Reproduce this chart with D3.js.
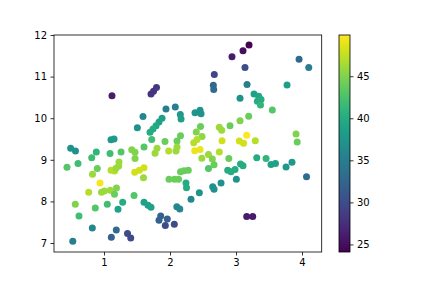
<!DOCTYPE html>
<html><head><meta charset="utf-8">
<script src="https://cdn.jsdelivr.net/npm/d3@7"></script>
<style>html,body{margin:0;padding:0;background:#fff}svg{display:block}</style>
</head><body>
<script>
const xs=[1.121,1.712,1.750,1.795,1.939,2.080,1.591,1.879,1.833,1.788,1.742,1.697,1.505,2.156,2.167,2.379,2.455,2.470,3.197,3.106,2.939,3.955,4.102,2.671,3.136,2.656,2.662,3.167,3.773,3.061,3.273,3.344,3.379,3.323,3.371,3.550,3.192,3.061,2.909,2.747,2.783,2.462,2.398,2.485,2.409,2.359,2.159,2.788,3.050,3.114,3.162,3.292,3.909,3.927,1.106,1.152,1.723,1.924,2.106,0.495,0.568,0.439,0.606,0.814,0.883,1.091,1.258,1.420,1.470,1.606,1.803,1.773,1.980,2.091,2.106,1.470,0.826,0.898,1.106,1.159,1.227,1.223,1.465,1.535,1.606,1.598,0.939,0.768,0.962,1.005,1.095,1.189,1.159,1.455,0.565,0.868,1.050,1.283,1.212,0.621,1.606,1.667,1.712,0.823,0.527,1.111,1.186,1.356,1.405,1.859,1.833,1.959,1.929,2.065,2.103,2.148,2.159,2.212,2.277,1.985,2.068,2.129,2.242,2.250,2.318,2.374,2.455,2.482,2.583,2.641,2.667,2.747,2.891,2.583,2.874,2.924,2.985,3.068,3.106,3.314,3.455,3.530,3.598,3.758,3.848,4.068,3.005,2.773,2.647,2.667,2.444,3.162,3.253,1.182];
const ys=[10.54,10.58,10.65,10.74,10.22,10.27,10.04,10.00,9.91,9.82,9.74,9.66,9.77,10.09,9.98,10.13,10.19,10.11,11.76,11.62,11.48,11.42,11.22,11.05,11.22,10.79,10.69,10.81,10.80,10.48,10.58,10.53,10.45,10.41,10.32,10.20,10.05,9.94,9.82,9.78,9.71,9.80,9.67,9.56,9.49,9.41,9.58,9.46,9.45,9.40,9.59,9.46,9.62,9.43,9.48,9.50,9.49,9.44,9.45,9.28,9.21,8.82,8.91,9.05,9.19,9.15,9.19,9.24,9.18,9.31,9.28,9.16,9.21,9.21,9.31,9.03,8.65,8.79,8.75,8.73,8.95,8.85,8.70,8.75,8.81,8.57,8.44,8.22,8.22,8.25,8.27,8.32,8.17,8.14,7.93,7.84,7.93,7.98,7.81,7.65,7.98,7.91,7.86,7.36,7.04,7.14,7.31,7.23,7.12,7.65,7.55,7.58,7.42,7.45,7.87,7.82,8.71,8.74,8.75,8.53,8.53,8.53,8.44,8.33,8.05,9.22,9.25,9.04,9.13,9.02,8.88,9.19,9.03,8.79,8.75,8.71,8.77,8.90,8.86,9.05,9.03,8.89,8.91,8.83,8.94,8.59,8.53,8.44,8.35,8.29,8.21,7.64,7.64,8.80];
const cs=[26,28,28,28.5,35,35,36,38.5,39,39.5,40,40,37,38,38.5,37.5,37.5,37.5,24.1,25,26,33,35,29.5,30,32.5,33,35,38.5,37,39,39.5,40,40,41,43,44,45,44,46,46,44,45,45.5,47,47,44,48,48,48,49.9,47,45,44,38,38,42,44,44,37,37,43,42,42,41,42,43,45,45,43,46,46,47,46,46,45,46,44,47,47,46,46,48,48,48,46,49.5,47,46,46,46,45,44,43,45,43,42,40,39,42,39,39,39,36,35,32,33,30,30,32,32,32,30,30,36,36,44,44,44,44,44,44,40,40,36,49,49,46,46,45,44,47,44,43,40,40,40,40,40,40,41,39,39,38,38,33,37,37,37,37,37,26,26,46];
const xTicks=[1,2,3,4];
const yTicks=[7,8,9,10,11,12];
const cTicks=[25,30,35,40,45];

const W=432,H=288;
const m={l:54,r:321.7,t:35,b:252};
const svg=d3.select("body").append("svg").attr("width",W).attr("height",H);
const x=d3.scaleLinear().domain([0.2424,4.298]).range([m.l,m.r]);
const y=d3.scaleLinear().domain([6.784,12.0]).range([m.b,m.t]);
const cExt=d3.extent(cs);
const color=d3.scaleSequential(d3.interpolateViridis).domain(cExt);
const font="DejaVu Sans";

const g=svg.append("g");
g.selectAll("circle").data(xs.map((v,i)=>({x:v,y:ys[i],c:cs[i]}))).join("circle")
 .attr("cx",d=>x(d.x)).attr("cy",d=>y(d.y)).attr("r",3.5)
 .attr("fill",d=>color(d.c));

const xa=svg.append("g").attr("transform",`translate(0,${m.b})`)
 .call(d3.axisBottom(x).tickValues(xTicks).tickSize(3.5).tickPadding(3.5).tickFormat(d3.format("d")));
const ya=svg.append("g").attr("transform",`translate(${m.l},0)`)
 .call(d3.axisLeft(y).tickValues(yTicks).tickSize(3.5).tickPadding(3.5).tickFormat(d3.format("d")));
[xa,ya].forEach(a=>{a.select(".domain").remove();a.selectAll("line").attr("stroke","#000").attr("stroke-width",0.8);
 a.selectAll("text").attr("font-family",font).attr("font-size",10).attr("fill","#000");});
svg.append("rect").attr("x",m.l).attr("y",m.t).attr("width",m.r-m.l).attr("height",m.b-m.t)
 .attr("fill","none").attr("stroke","#000").attr("stroke-width",0.8);

// colorbar
const cb={l:339,r:350,t:35,b:252};
const cy=d3.scaleLinear().domain(cExt).range([cb.b,cb.t]);
const defs=svg.append("defs");
const grad=defs.append("linearGradient").attr("id","vir").attr("x1",0).attr("y1",1).attr("x2",0).attr("y2",0);
d3.range(0,1.0001,0.05).forEach(t=>grad.append("stop").attr("offset",t).attr("stop-color",d3.interpolateViridis(t)));
svg.append("rect").attr("x",cb.l).attr("y",cb.t).attr("width",cb.r-cb.l).attr("height",cb.b-cb.t).attr("fill","url(#vir)");
const ca=svg.append("g").attr("transform",`translate(${cb.r},0)`)
 .call(d3.axisRight(cy).tickValues(cTicks).tickSize(3.5).tickPadding(3.5).tickFormat(d3.format("d")));
ca.select(".domain").remove();
ca.selectAll("line").attr("stroke","#000").attr("stroke-width",0.8);
ca.selectAll("text").attr("font-family",font).attr("font-size",10).attr("fill","#000");
svg.append("rect").attr("x",cb.l).attr("y",cb.t).attr("width",cb.r-cb.l).attr("height",cb.b-cb.t)
 .attr("fill","none").attr("stroke","#000").attr("stroke-width",0.8);
</script>
</body></html>
